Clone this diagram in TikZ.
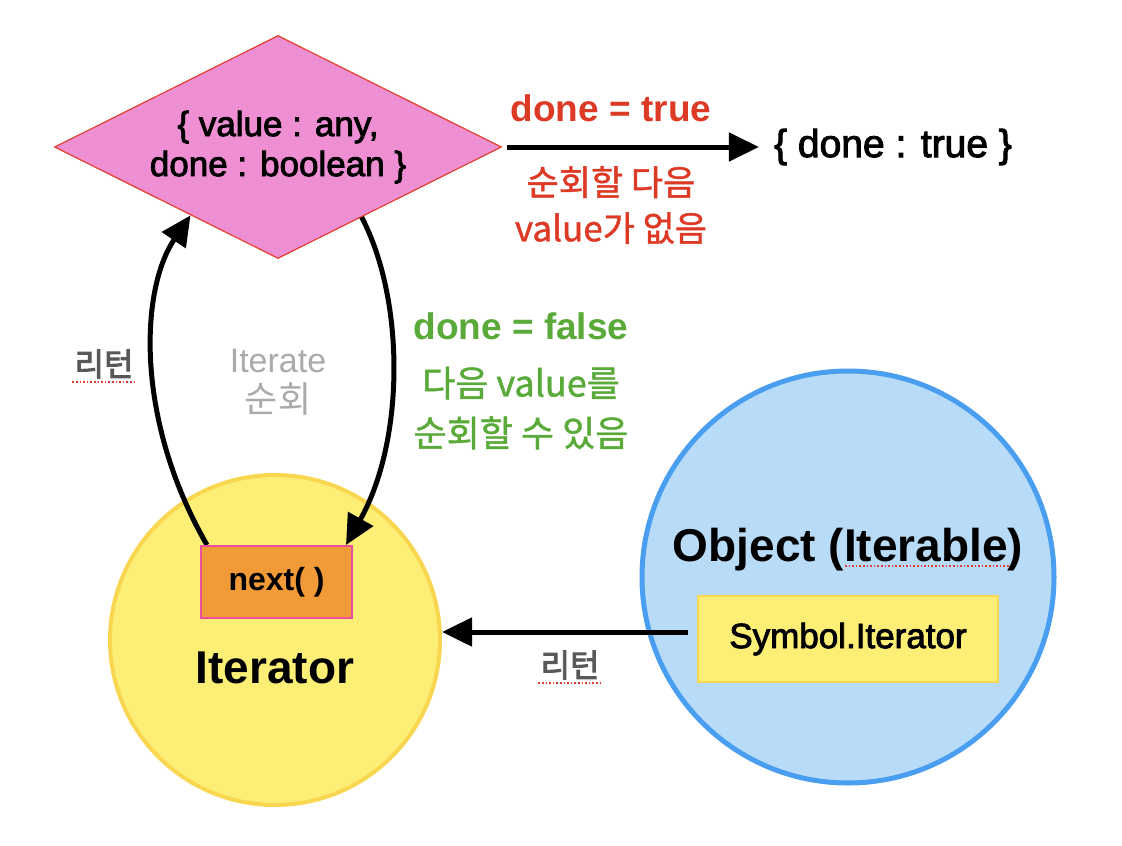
\documentclass[tikz,border=0pt]{standalone}
\usepackage{fontspec}
\setmainfont{Liberation Sans}
\newfontfamily\med[FakeBold=2.5]{Liberation Sans}
\newfontfamily\kr[FakeBold=1.2]{Noto Sans CJK KR}
\newfontfamily\krgray{Noto Sans CJK KR}
\newfontfamily\krb[FakeBold=3]{Noto Sans CJK KR}
\usetikzlibrary{shapes.geometric,arrows.meta,calc}
\definecolor{pinkfill}{RGB}{239,143,211}
\definecolor{pinkline}{RGB}{224,64,47}
\definecolor{redtxt}{RGB}{221,58,37}
\definecolor{greentxt}{RGB}{90,170,58}
\definecolor{graytxt}{RGB}{170,170,170}
\definecolor{darktxt}{RGB}{88,88,88}
\definecolor{yelfill}{RGB}{253,239,117}
\definecolor{yelline}{RGB}{249,214,80}
\definecolor{bluefill}{RGB}{184,220,248}
\definecolor{blueline}{RGB}{74,158,240}
\definecolor{orangefill}{RGB}{240,154,56}
\definecolor{magline}{RGB}{233,78,160}
\definecolor{spell}{RGB}{230,60,50}
\begin{document}
\begin{tikzpicture}[x=1pt,y=-1pt,
  arr/.style={line width=5pt,draw=black,-{Triangle[length=30pt,width=28pt]}},
  spellmark/.style={draw=spell,line width=1.6pt,dotted},
  txt/.style={inner sep=0pt,align=center}]
\useasboundingbox (0,0) rectangle (1122,846);
% shapes
\node[diamond,aspect=2,minimum width=447pt,minimum height=223pt,inner sep=0pt,
  fill=pinkfill,draw=pinkline,line width=1.2pt,align=center,
  font=\med\fontsize{35}{40}\selectfont] (res) at (278,147) {\{ value : any,\\done : boolean \}};
\node[circle,minimum size=330pt,fill=yelfill,draw=yelline,line width=4pt] (it) at (275,640) {};
\node[circle,minimum size=412pt,fill=bluefill,draw=blueline,line width=5pt] (obj) at (848,577) {};
\node[txt,font=\med\fontsize{39}{42}\selectfont] (dt) at (893,147) {\{ done : true \}};
% arrows
\coordinate (l0) at (207,545);
\coordinate (r1) at (346,545);
\draw[arr] (l0) .. controls (135,420) and (140,290) .. (res.218);
\draw[arr] (res.-40) .. controls (405,300) and (405,440) .. (r1);
\draw[arr,shorten >=15pt] ($(res.east)+(5,0)$) -- (dt.west);
% boxes
\node[minimum width=151pt,minimum height=72pt,fill=orangefill,draw=magline,line width=1.2pt,
  font=\bfseries\fontsize{32}{36}\selectfont] (nx) at (276.5,582) {next( )};
\node[minimum width=300pt,minimum height=86pt,fill=yelfill,draw=yelline,line width=1.5pt,
  font=\med\fontsize{35}{38}\selectfont] (sym) at (848,639) {Symbol.Iterator};
\coordinate (b0) at ($(sym.west)+(-9,-7)$);
\draw[arr] (b0) -- (b0 -| it.east);
% texts
\node[txt,font=\bfseries\fontsize{46}{50}\selectfont] (itlbl) at (275,668) {Iterator};
\node[txt,font=\bfseries\fontsize{46}{50}\selectfont] (objlbl) at (848,550) {Object (Iterable)};
\node[txt,font=\bfseries\fontsize{37}{40}\selectfont,text=redtxt] (dtrue) at (611,108) {done = true};
\node[txt,font=\kr\fontsize{35}{46}\selectfont,text=redtxt] (nonext) at (611,205) {순회할 다음\\value가 없음};
\node[txt,font=\bfseries\fontsize{37}{40}\selectfont,text=greentxt] (dfalse) at (521,326) {done = false};
\node[txt,font=\kr\fontsize{36}{50}\selectfont,text=greentxt] (hasnext) at (521,408) {다음 value를\\순회할 수 있음};
\node[txt,font=\fontsize{34}{40}\selectfont,text=graytxt] (iterlbl) at (278,382) {Iterate\\{\krgray\fontsize{36}{40}\selectfont 순회}};
\node[txt,font=\krb\fontsize{32}{34}\selectfont,text=darktxt] (ret1) at (104,364) {리턴};
\node[txt,font=\krb\fontsize{32}{34}\selectfont,text=darktxt] (ret2) at (570,665) {리턴};
% spell-check marks
\draw[spellmark] ($(ret1.south west)+(-2,3)$) -- ($(ret1.south east)+(0,3)$);
\draw[spellmark] ($(ret2.south west)+(-2,3)$) -- ($(ret2.south east)+(0,3)$);
\draw[spellmark] (845,566) -- (1010,566);
\end{tikzpicture}
\end{document}
